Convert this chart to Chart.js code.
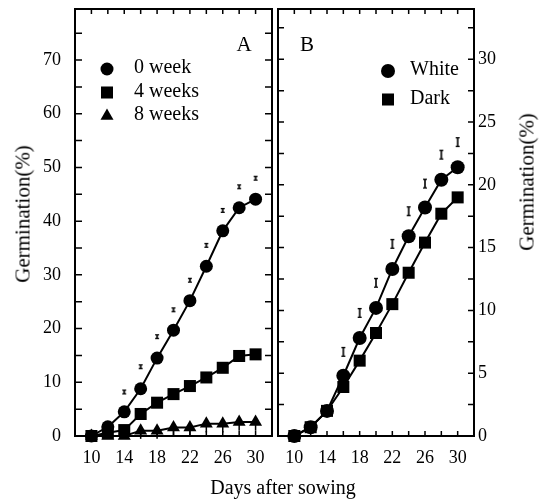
<!DOCTYPE html>
<html>
<head>
<meta charset="utf-8">
<script src="https://cdn.jsdelivr.net/npm/chart.js@4.4.0/dist/chart.umd.min.js"></script>
<style>
  body { margin: 0; background: #fff; width: 543px; height: 501px; overflow: hidden; position: relative; font-family: 'Liberation Serif', serif; }
  canvas { position: absolute; left: 0; top: 0; }
  .ttl { position: absolute; white-space: nowrap; color: #000; font-size: 21px; line-height: 1; transform: translate(-50%, -50%); }
  .rot { transform: translate(-50%, -50%) rotate(-90deg); }
</style>
</head>
<body>
<canvas id="panelA" width="543" height="501"></canvas>
<canvas id="panelB" width="543" height="501"></canvas>
<div class="ttl rot" style="left:23px; top:214px;">Germination(%)</div>
<div class="ttl rot" style="left:527px; top:182px;">Germination(%)</div>
<div class="ttl" style="left:283px; top:487px; font-size:20px;">Days after sowing</div>
<script>
// sampling days (both panels)
const days = [10, 12, 14, 16, 18, 20, 22, 24, 26, 28, 30];

// Panel A: storage period
const week0 = [0, 1.7, 4.5, 8.8, 14.5, 19.7, 25.2, 31.6, 38.2, 42.5, 44.1];
const week4 = [0, 0.6, 1.1, 4.1, 6.2, 7.8, 9.3, 10.9, 12.7, 14.9, 15.2];
const week8 = [0, 0, 0, 1.0, 1.0, 1.6, 1.6, 2.3, 2.3, 2.6, 2.6];
const errDaysA = [14, 16, 18, 20, 22, 24, 26, 28, 30];
const err0week = [8.2, 12.9, 18.5, 23.5, 29.0, 35.5, 42.0, 46.4, 48.0];
const stemDays8 = [16, 18, 20, 22, 24, 26, 28, 30];
const stem8week = [0.4, 0.4, 1.0, 1.0, 1.6, 1.6, 1.9, 1.9];

// Panel B: light condition
const white = [0, 0.7, 2.0, 4.8, 7.8, 10.2, 13.3, 15.9, 18.2, 20.4, 21.4];
const dark = [0, 0.7, 2.0, 3.9, 6.0, 8.2, 10.5, 13.0, 15.4, 17.7, 19.0];
const errDaysB = [16, 18, 20, 22, 24, 26, 28, 30];
const errWhite = [6.7, 9.8, 12.2, 15.3, 17.9, 20.1, 22.4, 23.4];

// tick labels and inner tick marks
const xTickLabels = [10, 14, 18, 22, 26, 30];
const xMinorTicks = [10, 12, 14, 16, 18, 20, 22, 24, 26, 28, 30];
const yTicksA = [0, 10, 20, 30, 40, 50, 60, 70];
const yMinorA = [0, 5, 10, 15, 20, 25, 30, 35, 40, 45, 50, 55, 60, 65, 70, 75];
const yTicksB = [0, 5, 10, 15, 20, 25, 30];
const yMinorB = [0, 2.5, 5, 7.5, 10, 12.5, 15, 17.5, 20, 22.5, 25, 27.5, 30, 32.5];

const FONT = 'Liberation Serif';

function pts(xs, ys) {
  return xs.map((x, i) => ({ x: x, y: ys[i] }));
}

// small "I" mark used for the error marks
function beam(h, w) {
  const c = document.createElement('canvas');
  c.width = w + 2;
  c.height = h + 2;
  const g = c.getContext('2d');
  g.fillStyle = '#000';
  const cx = (w + 2) / 2;
  g.fillRect(cx - 0.8, 1, 1.6, h);
  g.fillRect(1, 1, w, 1.3);
  g.fillRect(1, h - 0.3, w, 1.3);
  return c;
}

function series(label, xs, ys, style, r) {
  return {
    label: label,
    data: pts(xs, ys),
    showLine: true,
    borderColor: '#000',
    borderWidth: 2,
    backgroundColor: '#000',
    pointStyle: style,
    pointRadius: r,
    pointHoverRadius: r,
    pointBorderWidth: 0,
    clip: false,
    inLegend: true
  };
}

function marks(xs, ys, img) {
  return {
    label: 'err',
    data: pts(xs, ys),
    showLine: false,
    pointStyle: img,
    pointRadius: 4,
    clip: false,
    inLegend: false
  };
}

// thin vertical stems under the triangles
function stems(xs, ys) {
  return {
    label: 'stem',
    data: pts(xs, ys),
    showLine: false,
    pointStyle: 'line',
    rotation: 90,
    pointRadius: 5,
    borderColor: '#000',
    pointBorderWidth: 1.5,
    clip: false,
    inLegend: false
  };
}

function markerPath(ctx, style, r, x, y) {
  ctx.beginPath();
  if (style === 'rect') {
    const s = Math.SQRT1_2 * r;
    ctx.rect(x - s, y - s, 2 * s, 2 * s);
  } else if (style === 'triangle') {
    ctx.moveTo(x, y - r);
    ctx.lineTo(x + Math.sin(Math.PI * 2 / 3) * r, y + r / 2);
    ctx.lineTo(x - Math.sin(Math.PI * 2 / 3) * r, y + r / 2);
    ctx.closePath();
  } else {
    ctx.arc(x, y, r, 0, Math.PI * 2);
  }
  ctx.fill();
}

// boxed frame, inward ticks, panel letter and legend
const panelDecor = {
  id: 'panelDecor',
  beforeDatasetsDraw(chart, args, opts) {
    const { ctx, chartArea: a } = chart;
    const xs = chart.scales.x;
    const ys = chart.scales.y;
    ctx.save();
    ctx.strokeStyle = '#000';
    ctx.lineWidth = 1.5;
    ctx.beginPath();
    opts.xMinor.forEach(v => {
      const px = xs.getPixelForValue(v);
      ctx.moveTo(px, a.top); ctx.lineTo(px, a.top + opts.xLen);
      ctx.moveTo(px, a.bottom); ctx.lineTo(px, a.bottom - opts.xLen);
    });
    opts.yMinor.forEach(v => {
      const py = ys.getPixelForValue(v);
      ctx.moveTo(a.left, py); ctx.lineTo(a.left + opts.yLen, py);
      ctx.moveTo(a.right, py); ctx.lineTo(a.right - opts.yLen, py);
    });
    ctx.stroke();
    ctx.lineWidth = 2;
    ctx.strokeRect(a.left, a.top, a.width, a.height);

    ctx.fillStyle = '#000';
    ctx.textBaseline = 'middle';
    ctx.textAlign = 'center';
    ctx.font = '21px "' + FONT + '"';
    ctx.fillText(opts.letter, opts.letterX, opts.letterY);

    ctx.textAlign = 'left';
    ctx.font = '20px "' + FONT + '"';
    const items = chart.data.datasets.filter(d => d.inLegend);
    items.forEach((d, i) => {
      const y = opts.legendY[i];
      markerPath(ctx, d.pointStyle, d.pointRadius, opts.legendX, y);
      ctx.fillText(d.label, opts.textX, y - 1);
    });
    ctx.restore();
  }
};

function xScale() {
  return {
    type: 'linear',
    min: 8,
    max: 32,
    afterBuildTicks: s => { s.ticks = xTickLabels.map(v => ({ value: v })); },
    afterFit: s => { s.height = 40; s.paddingLeft = 0; s.paddingRight = 0; },
    grid: { display: false, drawTicks: false },
    border: { display: false },
    ticks: { color: '#000', padding: 11, font: { family: FONT, size: 18 } }
  };
}

function yScale(max, tickVals, pos, pad) {
  return {
    type: 'linear',
    position: pos,
    min: 0,
    max: max,
    afterBuildTicks: s => { s.ticks = tickVals.map(v => ({ value: v })); },
    afterFit: s => {
      s.width = pos === 'left' ? 75 : 40;
      s.paddingTop = 0;
      s.paddingBottom = 0;
    },
    grid: { display: false, drawTicks: false },
    border: { display: false },
    ticks: { color: '#000', padding: pad, font: { family: FONT, size: 18 } }
  };
}

const common = {
  responsive: false,
  animation: false,
  events: [],
  plugins: { legend: { display: false }, tooltip: { enabled: false } }
};

new Chart(document.getElementById('panelA'), {
  type: 'scatter',
  data: {
    datasets: [
      series('0 week', days, week0, 'circle', 6.5),
      series('4 weeks', days, week4, 'rect', 8.5),
      series('8 weeks', days, week8, 'triangle', 7.5),
      marks(errDaysA, err0week, beam(5, 4)),
      stems(stemDays8, stem8week)
    ]
  },
  options: Object.assign({}, common, {
    layout: { padding: { left: 0, top: 9, right: 271, bottom: 25 } },
    scales: { x: xScale(), y: yScale(79.5, yTicksA, 'left', 14) },
    plugins: Object.assign({}, common.plugins, {
      panelDecor: {
        xMinor: xMinorTicks, yMinor: yMinorA, xLen: 5, yLen: 7,
        letter: 'A', letterX: 244, letterY: 45,
        legendX: 107, textX: 134, legendY: [69, 92.5, 116]
      }
    })
  }),
  plugins: [panelDecor]
});

new Chart(document.getElementById('panelB'), {
  type: 'scatter',
  data: {
    datasets: [
      series('White', days, white, 'circle', 7),
      series('Dark', days, dark, 'rect', 8.5),
      marks(errDaysB, errWhite, beam(10, 4))
    ]
  },
  options: Object.assign({}, common, {
    layout: { padding: { left: 278, top: 9, right: 29, bottom: 25 } },
    scales: { x: xScale(), y: yScale(34, yTicksB, 'right', 4) },
    plugins: Object.assign({}, common.plugins, {
      panelDecor: {
        xMinor: xMinorTicks, yMinor: yMinorB, xLen: 5, yLen: 6,
        letter: 'B', letterX: 307, letterY: 45,
        legendX: 388, textX: 410, legendY: [71, 99.5]
      }
    })
  }),
  plugins: [panelDecor]
});
</script>
</body>
</html>
